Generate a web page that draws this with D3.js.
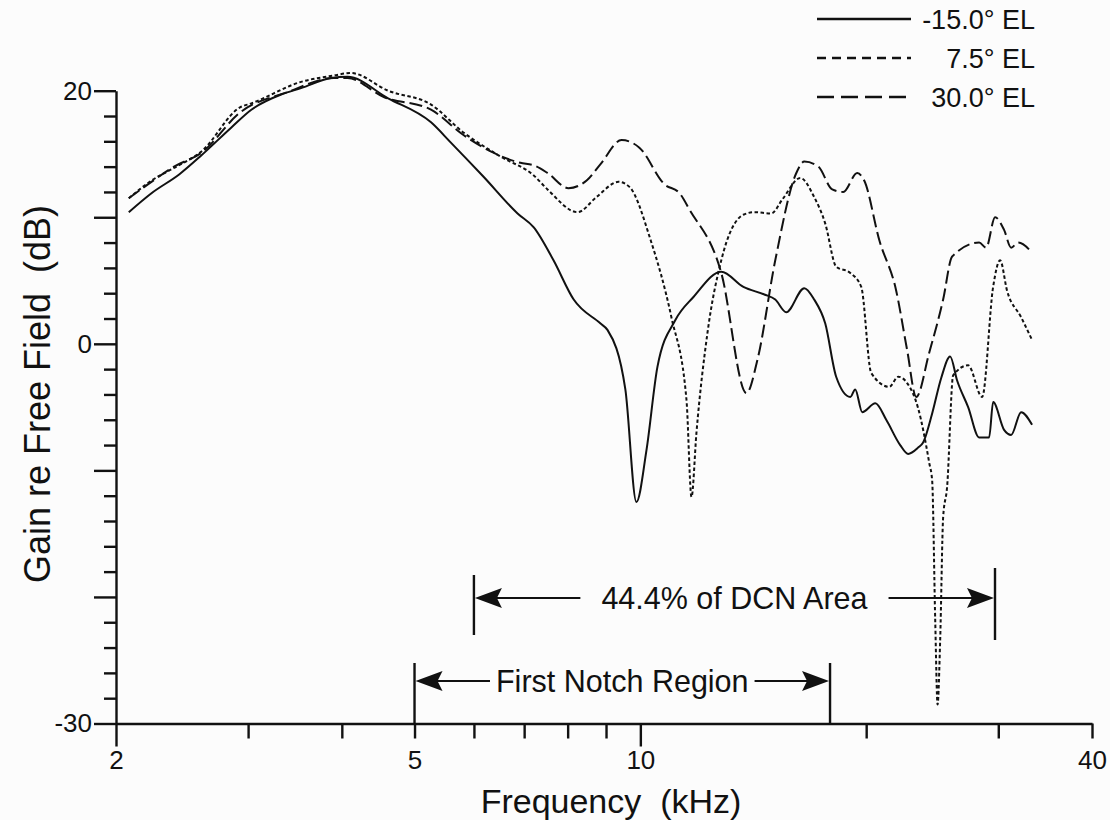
<!DOCTYPE html>
<html>
<head>
<meta charset="utf-8">
<script src="https://cdn.jsdelivr.net/npm/d3@7"></script>
<style>
  body { margin: 0; background: #fcfcfc; }
  svg { display: block; font-family: "Liberation Sans", Arial, Helvetica, sans-serif; }
</style>
</head>
<body>
<div id="chart"></div>
<script>
// tick values / labels
const xTickValues = [2, 3, 4, 5, 6, 7, 8, 9, 10, 20, 30, 40];
const xTickLabels = ["2", "", "", "5", "", "", "", "", "10", "", "", "40"];
const yTickValues = [-30, -28, -26, -24, -22, -20, -18, -16, -14, -12, -10, -8, -6, -4, -2,
                     0, 2, 4, 6, 8, 10, 12, 14, 16, 18, 20];
const yTickLabels = { "20": "20", "0": "0", "-30": "-30" };

// [frequency kHz, gain dB]
const elMinus15 = [[2.08,10.4],[2.23,11.9],[2.43,13.4],[2.60,14.9],[2.85,17.1],[3.03,18.5],[3.32,19.7],
  [3.53,20.2],[3.87,21.0],[4.07,21.1],[4.61,19.4],[5.26,17.5],[5.59,15.9],[6.18,13.2],[6.86,10.3],
  [7.21,9.2],[7.66,6.6],[8.15,3.5],[8.85,1.6],[9.04,1.1],[9.55,-3.6],[9.88,-12.5],[10.19,-8.4],
  [10.54,-1.8],[11.14,1.9],[11.77,3.7],[12.82,5.7],[13.72,4.5],[14.63,3.9],[15.13,3.5],[15.65,2.5],
  [16.54,4.4],[17.05,3.5],[17.64,1.6],[18.24,-2.6],[19.05,-4.2],[19.34,-3.6],[19.76,-5.4],[20.57,-4.7],
  [21.27,-6.0],[22.2,-8.0],[22.75,-8.7],[23.46,-8.2],[23.82,-7.8],[24.49,-5.5],[25.18,-2.7],[25.88,-1.0],
  [26.44,-2.9],[27.35,-5.0],[28.29,-7.4],[29.17,-7.4],[29.53,-4.6],[30.54,-6.8],[31.21,-7.2],[32.18,-5.4],
  [33.28,-6.4]];

const el7_5 = [[2.08,11.5],[2.23,12.9],[2.39,13.9],[2.60,15.2],[2.93,18.7],[3.03,19.0],[3.53,20.7],
  [3.90,21.2],[4.11,21.4],[4.61,20.0],[5.26,18.9],[5.81,16.7],[6.51,14.8],[7.21,13.3],[7.52,12.2],
  [8.25,10.4],[8.74,11.6],[9.35,12.8],[9.67,12.4],[10.32,8.2],[11.00,2.1],[11.52,-4.4],[11.70,-12.1],
  [11.88,-7.0],[12.29,0.9],[12.82,6.6],[13.72,10.2],[14.19,10.4],[14.95,10.3],[15.46,11.4],[16.34,13.1],
  [17.05,11.6],[17.64,9.5],[18.24,6.1],[19.05,5.6],[19.70,4.5],[20.31,-2.3],[21.47,-3.4],[22.07,-2.6],
  [22.68,-3.1],[23.46,-5.1],[24.27,-9.4],[24.49,-10.8],[24.72,-21.8],[24.90,-28.5],[25.10,-23.4],
  [25.33,-13.7],[25.64,-11.3],[26.12,-2.5],[27.35,-1.7],[28.55,-4.2],[29.53,4.5],[30.17,6.6],
  [30.82,4.2],[32.18,2.1],[33.28,0.3]];

const el30 = [[2.08,11.5],[2.23,12.8],[2.39,14.0],[2.60,15.1],[2.93,18.3],[3.39,19.9],[3.90,21.0],
  [4.07,21.0],[4.55,19.5],[5.26,18.5],[5.81,16.5],[6.37,15.1],[6.92,14.3],[7.21,14.1],[7.52,13.5],
  [8.02,12.3],[8.48,12.9],[8.85,14.2],[9.44,16.1],[9.97,15.5],[10.77,12.6],[11.28,11.9],[11.63,10.6],
  [12.82,5.6],[13.85,-3.9],[14.32,-1.3],[15.13,6.6],[16.14,13.5],[16.54,14.4],[17.27,14.0],[18.02,12.2],
  [18.64,12.0],[19.46,13.5],[19.88,12.9],[20.82,8.2],[21.93,4.2],[22.68,-0.5],[23.32,-4.2],[24.27,-0.7],
  [25.33,3.5],[26.04,6.9],[28.29,8.0],[28.90,7.6],[29.71,10.0],[30.54,9.0],[31.21,7.6],[31.89,8.0],
  [33.28,7.2]];

const seriesNames = ["-15.0\u00b0 EL", "7.5\u00b0 EL", "30.0\u00b0 EL"];

// annotation spans (kHz)
const dcnSpan = [6, 29.7];
const notchSpan = [5, 17.9];

const width = 1110, height = 820;
const ink = "#111";

const svg = d3.select("#chart").append("svg")
    .attr("width", width)
    .attr("height", height);

const x = d3.scaleLog().domain([2, 40]).range([116, 1092]);
const y = d3.scaleLinear().domain([-30, 20]).range([723.5, 90.7]);

// x axis
const xAxis = svg.append("g")
    .attr("transform", `translate(0, ${y(-30)})`)
    .call(d3.axisBottom(x).tickValues(xTickValues)
      .tickFormat((d, i) => xTickLabels[i]).tickSize(15).tickSizeOuter(0));
xAxis.selectAll("line").filter(d => d === 2 || d === 10).attr("y2", 23);
xAxis.selectAll("text").attr("y", 45).attr("dy", 0)
    .style("font-size", "26px").style("fill", ink);

// y axis
const yAxis = svg.append("g")
    .attr("transform", `translate(${x(2)}, 0)`)
    .call(d3.axisLeft(y).tickValues(yTickValues)
      .tickFormat(d => yTickLabels[d] || "").tickSize(12).tickSizeOuter(0));
yAxis.selectAll("line").filter(d => d % 10 === 0).attr("x2", -22);
yAxis.selectAll("text").attr("x", -24)
    .style("font-size", "26px").style("fill", ink);

svg.selectAll(".domain, .tick line").style("stroke", ink).style("stroke-width", "2.4px");

// axis titles
svg.append("text")
    .attr("x", 611).attr("y", 813)
    .attr("text-anchor", "middle")
    .attr("xml:space", "preserve")
    .style("font-size", "34px").style("fill", ink)
    .text("Frequency  (kHz)");

svg.append("text")
    .attr("transform", "translate(50, 394) rotate(-90)")
    .attr("text-anchor", "middle")
    .attr("xml:space", "preserve")
    .style("font-size", "36px").style("fill", ink)
    .text("Gain re Free Field  (dB)");

// curves
const line = d3.line()
    .x(d => x(d[0]))
    .y(d => y(d[1]))
    .curve(d3.curveMonotoneX);

const series = [
  { data: elMinus15, dash: null, legendDash: null },
  { data: el7_5, dash: "3.5,2.5", legendDash: "9,6" },
  { data: el30, dash: "13,5", legendDash: "17,7" }
];

svg.append("g").selectAll("path")
  .data(series)
  .enter().append("path")
    .attr("d", d => line(d.data))
    .attr("fill", "none")
    .attr("stroke", ink)
    .attr("stroke-width", 2)
    .attr("stroke-dasharray", d => d.dash);

// legend
const legend = svg.append("g");
series.forEach((s, i) => {
  const ly = 19 + i * 39;
  legend.append("line")
    .attr("x1", 817).attr("x2", 911).attr("y1", ly).attr("y2", ly)
    .attr("stroke", ink).attr("stroke-width", 2.4)
    .attr("stroke-dasharray", s.legendDash);
  legend.append("text")
    .attr("x", 1035).attr("y", ly).attr("dy", "0.36em")
    .attr("text-anchor", "end")
    .style("font-size", "27px").style("fill", ink)
    .text(seriesNames[i]);
});

// span annotations
function arrowHead(g, tipX, yy, dir) {
  const L = 27, H = 10, N = 5;
  g.append("path")
    .attr("d", `M${tipX},${yy} L${tipX - dir * L},${yy - H} L${tipX - dir * (L - N)},${yy} L${tipX - dir * L},${yy + H} Z`)
    .attr("fill", ink);
}

function span(range, yArrow, leftBar, rightBar, label, gap) {
  const g = svg.append("g");
  const x0 = x(range[0]), x1 = x(range[1]);
  g.append("line").attr("x1", x0).attr("x2", x0).attr("y1", leftBar[0]).attr("y2", leftBar[1])
    .attr("stroke", ink).attr("stroke-width", 2.4);
  g.append("line").attr("x1", x1).attr("x2", x1).attr("y1", rightBar[0]).attr("y2", rightBar[1])
    .attr("stroke", ink).attr("stroke-width", 2.4);
  const cx = (x0 + x1) / 2;
  const t = g.append("text")
    .attr("x", cx).attr("y", yArrow).attr("dy", "0.36em")
    .attr("text-anchor", "middle")
    .style("font-size", "30.5px").style("fill", ink)
    .text(label);
  const w = t.node().getComputedTextLength();
  g.append("line").attr("x1", x0 + 20).attr("x2", cx - w / 2 - gap)
    .attr("y1", yArrow).attr("y2", yArrow).attr("stroke", ink).attr("stroke-width", 2.2);
  g.append("line").attr("x1", cx + w / 2 + gap).attr("x2", x1 - 20)
    .attr("y1", yArrow).attr("y2", yArrow).attr("stroke", ink).attr("stroke-width", 2.2);
  arrowHead(g, x0 + 1, yArrow, -1);
  arrowHead(g, x1 - 1, yArrow, 1);
}

span(dcnSpan, 598, [575, 635], [568, 640], "44.4% of DCN Area", 21);
span(notchSpan, 681, [663, y(-30)], [663, y(-30)], "First Notch Region", 6);
</script>
</body>
</html>
